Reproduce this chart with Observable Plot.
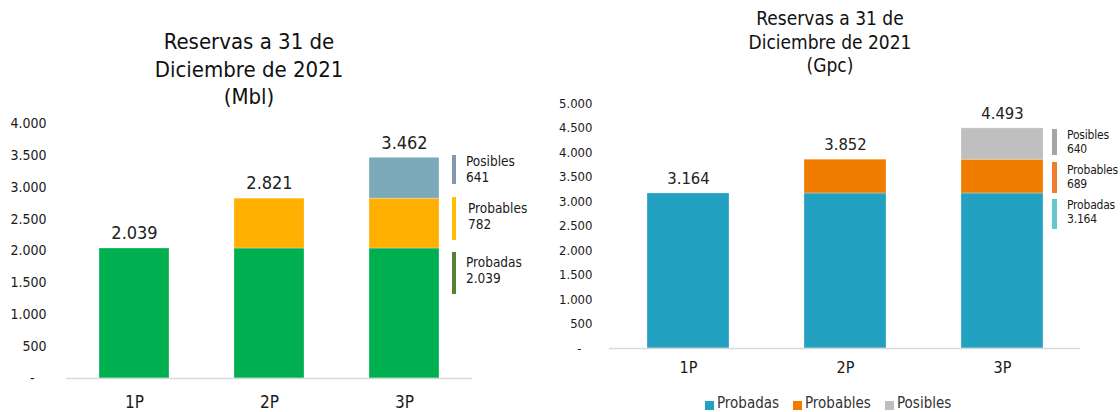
<!DOCTYPE html>
<html>
<head>
<meta charset="utf-8">
<script src="https://cdn.jsdelivr.net/npm/d3@7"></script>
<script src="https://cdn.jsdelivr.net/npm/@observablehq/plot@0.6"></script>
<style>
  html, body { margin: 0; padding: 0; background: #fff; }
  #wrap { position: relative; width: 1120px; height: 412px; overflow: hidden; background: #fff;
          font-family: "DejaVu Sans", sans-serif; font-stretch: condensed; color: #111; }
  .abs { position: absolute; }
  .title { position: absolute; text-align: center; white-space: nowrap; color: #111; }
  .lg { position: absolute; white-space: nowrap; }
  .lgbar { position: absolute; }
  svg text { font-stretch: condensed; }
</style>
</head>
<body>
<div id="wrap"></div>
<script>
// ---------------- data ----------------
const categories = ["1P", "2P", "3P"];
const series = ["Probadas", "Probables", "Posibles"];

const oilProbadas = [2039, 2039, 2039];
const oilProbables = [0, 782, 782];
const oilPosibles = [0, 0, 641];
const oilTotals = [2039, 2821, 3462];
const oilLegendValues = [2039, 782, 641];
const oilTicks = [0, 500, 1000, 1500, 2000, 2500, 3000, 3500, 4000];

const gasProbadas = [3164, 3164, 3164];
const gasProbables = [0, 689, 689];
const gasPosibles = [0, 0, 640];
const gasTotals = [3164, 3852, 4493];
const gasLegendValues = [3164, 689, 640];
const gasTicks = [0, 500, 1000, 1500, 2000, 2500, 3000, 3500, 4000, 4500, 5000];

const oilTitle = ["Reservas a 31 de", "Diciembre de 2021", "(Mbl)"];
const gasTitle = ["Reservas a 31 de", "Diciembre de 2021", "(Gpc)"];

const oilColors = ["#00B050", "#FFB000", "#7BAAB8"];
const gasColors = ["#23A1C1", "#F07D00", "#BFBFBF"];
const oilLegendColors = ["#548235", "#FFC000", "#8497B0"];
const gasLegendColors = ["#66C7CF", "#ED7D31", "#A5A5A5"];

// ---------------- helpers ----------------
const fmt = v => v === 0 ? "-\u00A0\u00A0\u00A0" : d3.format(",")(v).replace(/,/g, ".");
const fmtNum = v => d3.format(",")(v).replace(/,/g, ".");
const FONT = "'DejaVu Sans', sans-serif";

function longTable(a, b, c) {
  const rows = [];
  const arrs = [a, b, c];
  categories.forEach((cat, i) => {
    series.forEach((s, j) => {
      if (arrs[j][i] > 0) rows.push({cat, series: s, value: arrs[j][i]});
    });
  });
  return rows;
}

function chart(opts) {
  const rows = longTable(...opts.values);
  const totals = categories.map((cat, i) => ({cat, total: opts.totals[i]}));
  return Plot.plot({
    width: opts.width,
    height: 412,
    marginLeft: opts.ml,
    marginRight: opts.mr,
    marginTop: opts.mt,
    marginBottom: opts.mb,
    style: {fontFamily: FONT, fontSize: opts.tickFont + "px", color: "#1a1a1a", background: "transparent", overflow: "visible"},
    x: {domain: categories, paddingInner: 0.48, paddingOuter: 0.24, label: null},
    y: {domain: [0, opts.ymax], ticks: opts.ticks, label: null},
    color: {domain: series, range: opts.colors},
    marks: [
      Plot.axisY({ticks: opts.ticks, tickSize: 0, tickPadding: opts.yPad, tickFormat: fmt, label: null, fontSize: opts.tickFont}),
      Plot.axisX({tickSize: 0, tickPadding: opts.xPad, label: null, fontSize: opts.catFont}),
      Plot.barY(rows, {x: "cat", y: "value", fill: "series", stroke: "#ffffff", strokeOpacity: 0.35, strokeWidth: 0.8}),
      Plot.ruleY([0], {stroke: "#D9D9D9", strokeWidth: 1.5}),
      Plot.text(totals, {x: "cat", y: "total", text: d => fmtNum(d.total), dy: -15, fontSize: opts.valFont, fill: "#222"})
    ]
  });
}

const wrap = document.getElementById("wrap");

function place(el, left, top) {
  el.style.position = "absolute";
  el.style.left = left + "px";
  el.style.top = top + "px";
  wrap.appendChild(el);
}

// ---------------- left chart (Mbl) ----------------
const left = chart({
  values: [oilProbadas, oilProbables, oilPosibles], totals: oilTotals,
  width: 560, ml: 66, mr: 88, mt: 123, mb: 34, ymax: 4000, ticks: oilTicks,
  colors: oilColors, yPad: 20, xPad: 17, tickFont: 14, catFont: 17, valFont: 18
});
place(left, 0, 0);

// ---------------- right chart (Gpc) ----------------
const right = chart({
  values: [gasProbadas, gasProbables, gasPosibles], totals: gasTotals,
  width: 580, ml: 69, mr: 40, mt: 103, mb: 64, ymax: 5000, ticks: gasTicks,
  colors: gasColors, yPad: 17, xPad: 13, tickFont: 13, catFont: 16, valFont: 16.5
});
place(right, 540, 0);

// ---------------- titles ----------------
function title(lines, cx, top, size, lh) {
  const d = document.createElement("div");
  d.className = "title";
  d.style.fontSize = size + "px";
  d.style.lineHeight = lh + "px";
  d.style.width = "300px";
  d.style.left = (cx - 150) + "px";
  d.style.top = top + "px";
  d.innerHTML = lines.map(l => `<div>${l}</div>`).join("");
  wrap.appendChild(d);
}
title(oilTitle, 249, 28, 22, 27.5);
title(gasTitle, 830, 7, 19, 23.5);

// ---------------- side legends ----------------
// entries listed top to bottom: Posibles, Probables, Probadas
function sideLegend(cfg) {
  [2, 1, 0].forEach((si, k) => {
    const e = cfg.entries[k];
    const bar = document.createElement("div");
    bar.className = "lgbar";
    bar.style.left = cfg.barX + "px";
    bar.style.width = cfg.barW + "px";
    bar.style.top = e.barTop + "px";
    bar.style.height = e.barH + "px";
    bar.style.background = cfg.colors[si];
    wrap.appendChild(bar);
    [series[si], fmtNum(cfg.values[si])].forEach((txt, li) => {
      const t = document.createElement("div");
      t.className = "lg";
      t.style.left = e.textX + "px";
      t.style.top = (e.textTop + li * cfg.lh) + "px";
      t.style.fontSize = cfg.font + "px";
      t.style.lineHeight = cfg.lh + "px";
      t.style.letterSpacing = cfg.ls + "px";
      t.style.color = "#1a1a1a";
      t.textContent = txt;
      wrap.appendChild(t);
    });
  });
}
sideLegend({
  colors: oilLegendColors, values: oilLegendValues, barX: 452, barW: 4, font: 13.5, lh: 16, ls: 0,
  entries: [
    {barTop: 155, barH: 29, textX: 466, textTop: 153},
    {barTop: 197, barH: 43, textX: 468, textTop: 200},
    {barTop: 252, barH: 42, textX: 466, textTop: 254}
  ]
});
sideLegend({
  colors: gasLegendColors, values: gasLegendValues, barX: 1052, barW: 5, font: 12, lh: 14, ls: -0.2,
  entries: [
    {barTop: 129, barH: 26, textX: 1067, textTop: 128},
    {barTop: 162, barH: 31, textX: 1067, textTop: 163},
    {barTop: 199, barH: 30, textX: 1067, textTop: 198}
  ]
});

// ---------------- bottom legend (right chart) ----------------
const bottomLegendX = [705, 793, 885];
series.forEach((s, i) => {
  const sq = document.createElement("div");
  sq.className = "abs";
  sq.style.left = bottomLegendX[i] + "px";
  sq.style.top = "401px";
  sq.style.width = "9px";
  sq.style.height = "9px";
  sq.style.background = gasColors[i];
  wrap.appendChild(sq);
  const t = document.createElement("div");
  t.className = "lg";
  t.style.left = (bottomLegendX[i] + 12) + "px";
  t.style.top = "395px";
  t.style.fontSize = "15px";
  t.style.lineHeight = "17px";
  t.style.color = "#333";
  t.textContent = s;
  wrap.appendChild(t);
});
</script>
</body>
</html>
